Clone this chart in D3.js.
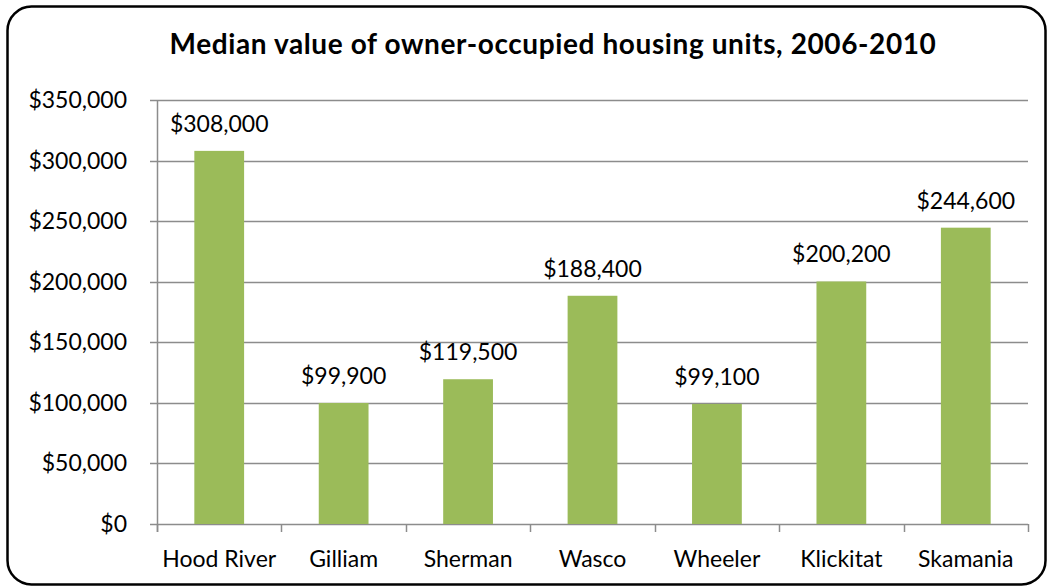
<!DOCTYPE html>
<html>
<head>
<meta charset="utf-8">
<style>
body { margin: 0; background: #fff; }
text { font-family: Lato, "Open Sans", sans-serif; fill: #000; }
</style>
</head>
<body>
<script src="https://cdn.jsdelivr.net/npm/d3@7"></script>
<script>
// chart data
var counties = ["Hood River", "Gilliam", "Sherman", "Wasco", "Wheeler", "Klickitat", "Skamania"];
var medianValues = [308000, 99900, 119500, 188400, 99100, 200200, 244600];
var yTicks = [0, 50000, 100000, 150000, 200000, 250000, 300000, 350000];
var title = "Median value of owner-occupied housing units, 2006-2010";

var width = 1047, height = 588;
var margin = {top: 100, right: 19, bottom: 64, left: 157};

var svg = d3.select("body").append("svg")
    .attr("width", width)
    .attr("height", height);

// outer frame
svg.append("rect")
    .attr("x", 7.5).attr("y", 6.5)
    .attr("width", 1038).attr("height", 578)
    .attr("rx", 24).attr("ry", 24)
    .attr("fill", "#fff")
    .attr("stroke", "#000")
    .attr("stroke-width", 2.5);

svg.append("text")
    .attr("x", 553).attr("y", 54)
    .attr("text-anchor", "middle")
    .style("font-size", "28px")
    .style("font-weight", "bold")
    .style("letter-spacing", "0.6px")
    .text(title);

var x = d3.scaleBand()
    .domain(counties)
    .range([margin.left, width - margin.right])
    .paddingInner(0.6)
    .paddingOuter(0.3);

var y = d3.scaleLinear()
    .domain([0, 350000])
    .range([height - margin.bottom, margin.top]);

var fmt = d3.format("$,");

// gridlines
svg.append("g")
    .selectAll("line")
    .data(yTicks)
    .enter().append("line")
    .attr("x1", margin.left - 7)
    .attr("x2", width - margin.right)
    .attr("y1", function(d) { return Math.round(y(d)) + 0.5; })
    .attr("y2", function(d) { return Math.round(y(d)) + 0.5; })
    .attr("stroke", "#8c8c8c")
    .attr("stroke-width", 1.5);

// y axis line
svg.append("line")
    .attr("x1", margin.left + 0.5).attr("x2", margin.left + 0.5)
    .attr("y1", margin.top).attr("y2", height - margin.bottom + 8)
    .attr("stroke", "#8c8c8c")
    .attr("stroke-width", 1.5);

// x tick marks at category boundaries
var step = x.step();
var bounds = d3.range(counties.length + 1).map(function(i) { return margin.left + i * step; });
svg.append("g")
    .selectAll("line")
    .data(bounds)
    .enter().append("line")
    .attr("x1", function(d) { return Math.round(d) + 0.5; })
    .attr("x2", function(d) { return Math.round(d) + 0.5; })
    .attr("y1", height - margin.bottom)
    .attr("y2", height - margin.bottom + 8)
    .attr("stroke", "#8c8c8c")
    .attr("stroke-width", 1.5);

// y tick labels
svg.append("g")
    .selectAll("text")
    .data(yTicks)
    .enter().append("text")
    .attr("x", 127)
    .attr("y", function(d) { return y(d); })
    .attr("dy", "0.35em")
    .attr("text-anchor", "end")
    .style("font-size", "23px")
    .text(function(d) { return fmt(d); });

// bars
svg.append("g")
    .selectAll("rect")
    .data(medianValues)
    .enter().append("rect")
    .attr("x", function(d, i) { return x(counties[i]); })
    .attr("y", function(d) { return y(d); })
    .attr("width", x.bandwidth())
    .attr("height", function(d) { return y(0) - y(d); })
    .attr("fill", "#9bbb59");

// value labels
svg.append("g")
    .selectAll("text")
    .data(medianValues)
    .enter().append("text")
    .attr("x", function(d, i) { return x(counties[i]) + x.bandwidth() / 2; })
    .attr("y", function(d) { return y(d) - 19; })
    .attr("text-anchor", "middle")
    .style("font-size", "23px")
    .text(function(d) { return fmt(d); });

// category labels
svg.append("g")
    .selectAll("text")
    .data(counties)
    .enter().append("text")
    .attr("x", function(d) { return x(d) + x.bandwidth() / 2; })
    .attr("y", 567)
    .attr("text-anchor", "middle")
    .style("font-size", "23px")
    .text(function(d) { return d; });
</script>
</body>
</html>
